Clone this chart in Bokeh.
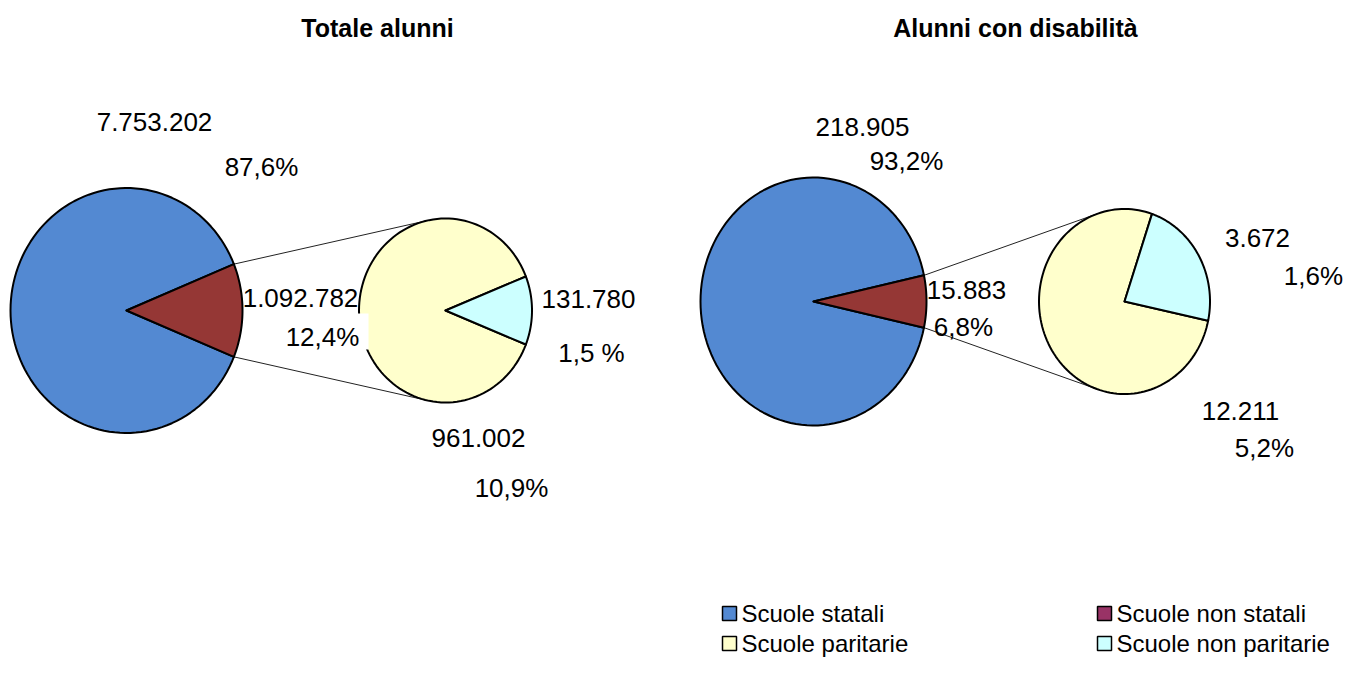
import math
from bokeh.plotting import figure
from bokeh.models import Range1d, ColumnDataSource
from bokeh.core.properties import value
from bokeh.embed import file_html
from bokeh.resources import INLINE

# ---------------- data ----------------
categories = ["Scuole statali", "Scuole non statali", "Scuole paritarie", "Scuole non paritarie"]
titles = ["Totale alunni", "Alunni con disabilità"]
# Totale alunni
tot_statali = 7753202
tot_paritarie = 961002
tot_non_paritarie = 131780
tot_pct_labels = ["87,6%", "12,4%", "10,9%", "1,5 %"]
# Alunni con disabilità
dis_statali = 218905
dis_paritarie = 12211
dis_non_paritarie = 3672
dis_pct_labels = ["93,2%", "6,8%", "5,2%", "1,6%"]

colors = ["#5389D2", "#953735", "#FFFFCC", "#CCFFFF"]
legend_colors = ["#5389D2", "#993366", "#FFFFCC", "#CCFFFF"]

FONT = "Liberation Sans"


def fmt(n):
    return f"{n:,}".replace(",", ".")


def wedge(cx, cy, rx, ry, a0, a1, n=120):
    xs, ys = [cx], [cy]
    for i in range(n + 1):
        a = math.radians(a0 + (a1 - a0) * i / n)
        xs.append(cx + rx * math.cos(a))
        ys.append(cy - ry * math.sin(a))
    return xs, ys


def tangent(px, py, cx, cy, rx, ry, upper):
    ux, uy = (px - cx) / rx, -(py - cy) / ry
    d = math.hypot(ux, uy)
    base = math.atan2(uy, ux)
    off = math.acos(1.0 / d)
    cands = [base + off, base - off]
    pts = [(cx + rx * math.cos(t), cy - ry * math.sin(t)) for t in cands]
    pts.sort(key=lambda p: p[1])
    return pts[0] if upper else pts[-1]


W, H = 1356, 657
p = figure(width=W, height=H, output_backend="svg", toolbar_location=None,
           x_range=Range1d(0, W), y_range=Range1d(H, 0),
           x_axis_location=None, y_axis_location=None, min_border=0,
           outline_line_color=None, background_fill_color="white")
p.grid.visible = False

charts = [
    dict(stat=tot_statali, par=tot_paritarie, npar=tot_non_paritarie, pct=tot_pct_labels,
         main=(126, 310, 116, 122.5), small=(445, 310, 86.5, 92), small_start=None,
         title_xy=(377, 27),
         lab_xy=[(154, 121), (261, 166), (300, 297), (322, 336), (478, 437), (511, 487), (588, 298), (591, 352)],
         box=(282, 368, 313, 349)),
    dict(stat=dis_statali, par=dis_paritarie, npar=dis_non_paritarie, pct=dis_pct_labels,
         main=(813, 301, 113, 124), small=(1124, 301, 85.5, 92.5), small_start=-12.0,
         title_xy=(1015, 27),
         lab_xy=[(862, 126), (906, 160), (966, 289), (963, 326), (1240, 410), (1264, 447), (1257, 237), (1313, 275)],
         box=None),
]

for c in charts:
    other = c["par"] + c["npar"]
    total = c["stat"] + other
    cx, cy, rx, ry = c["main"]
    red_span = 360.0 * other / total
    r0, r1 = -red_span / 2, red_span / 2
    sx, sy, srx, sry = c["small"]
    cy_span = 360.0 * c["npar"] / other
    s0 = -cy_span / 2 if c["small_start"] is None else c["small_start"]
    s1 = s0 + cy_span

    # connector lines
    top_pt = (cx + rx * math.cos(math.radians(r1)), cy - ry * math.sin(math.radians(r1)))
    bot_pt = (cx + rx * math.cos(math.radians(r0)), cy - ry * math.sin(math.radians(r0)))
    t_top = tangent(*top_pt, sx, sy, srx, sry, True)
    t_bot = tangent(*bot_pt, sx, sy, srx, sry, False)
    p.segment(x0=[top_pt[0], bot_pt[0]], y0=[top_pt[1], bot_pt[1]],
              x1=[t_top[0], t_bot[0]], y1=[t_top[1], t_bot[1]],
              line_color="#222222", line_width=1)

    polys = [
        wedge(cx, cy, rx, ry, r1, 360 + r0),
        wedge(cx, cy, rx, ry, r0, r1),
        wedge(sx, sy, srx, sry, s1, 360 + s0),
        wedge(sx, sy, srx, sry, s0, s1),
    ]
    src = ColumnDataSource(dict(xs=[q[0] for q in polys], ys=[q[1] for q in polys], fc=colors))
    p.patches("xs", "ys", source=src, fill_color="fc", line_color="black", line_width=2,
              line_join="round")

    if c["box"]:
        l, r, t, b = c["box"]
        p.quad(left=[l], right=[r], top=[t], bottom=[b], fill_color="white", line_color=None)

    texts = [fmt(c["stat"]), c["pct"][0], fmt(other), c["pct"][1],
             fmt(c["par"]), c["pct"][2], fmt(c["npar"]), c["pct"][3]]
    p.text(x=[q[0] for q in c["lab_xy"]], y=[q[1] for q in c["lab_xy"]], text=texts,
           text_font=value(FONT), text_font_size="26px", text_align="center",
           text_baseline="middle", text_color="black")

for t, c in zip(titles, charts):
    p.text(x=[c["title_xy"][0]], y=[c["title_xy"][1]], text=[t], text_font=value(FONT),
           text_font_size="25px", text_font_style="bold", text_align="center",
           text_baseline="middle", text_color="black")

# legend
leg_x = [729, 1104, 729, 1104]
leg_y = [613, 613, 643, 643]
p.scatter(x=leg_x, y=leg_y, marker="square", size=14, fill_color=legend_colors,
          line_color="black", line_width=1.5)
p.text(x=[x + 12 for x in leg_x], y=leg_y, text=[categories[0], categories[1], categories[2], categories[3]],
       text_font=value(FONT), text_font_size="24px", text_align="left",
       text_baseline="middle", text_color="black")

open("out.html", "w").write(file_html(p, INLINE))
